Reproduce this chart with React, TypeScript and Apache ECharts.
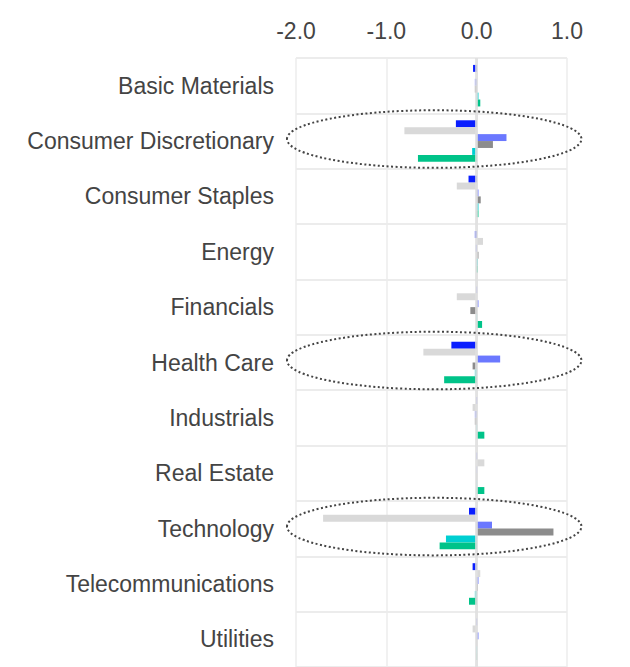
import React, { useEffect, useRef } from "react";
import * as echarts from "echarts";

const categories = [
  "Basic Materials",
  "Consumer Discretionary",
  "Consumer Staples",
  "Energy",
  "Financials",
  "Health Care",
  "Industrials",
  "Real Estate",
  "Technology",
  "Telecommunications",
  "Utilities",
];

const xTicks = [-2, -1, 0, 1];

const seriesBlue = [-0.04, -0.23, -0.09, -0.02, 0.005, -0.28, 0.005, 0.005, -0.085, -0.045, 0.005];
const seriesLightGrey = [0, -0.8, -0.22, 0.07, -0.22, -0.59, -0.045, 0.085, -1.7, 0.04, -0.045];
const seriesPeriwinkle = [-0.02, 0.33, 0.02, -0.01, 0.02, 0.26, -0.02, 0.005, 0.17, 0.02, 0.02];
const seriesDarkGrey = [-0.02, 0.18, 0.045, 0.02, -0.07, -0.045, -0.02, 0.005, 0.85, 0.015, 0.005];
const seriesTeal = [0.02, -0.05, 0.02, 0.015, 0.005, -0.02, 0.005, 0.005, -0.34, -0.02, 0.005];
const seriesGreen = [0.04, -0.65, 0.02, 0.015, 0.06, -0.36, 0.085, 0.085, -0.41, -0.085, 0.005];

const seriesList = [
  { name: "A", data: seriesBlue, color: "#0a1eff" },
  { name: "B", data: seriesLightGrey, color: "#d9d9d9" },
  { name: "C", data: seriesPeriwinkle, color: "#6b78ff" },
  { name: "D", data: seriesDarkGrey, color: "#8c8c8c" },
  { name: "E", data: seriesTeal, color: "#00cfd2" },
  { name: "F", data: seriesGreen, color: "#00c389" },
];

const highlighted = ["Consumer Discretionary", "Health Care", "Technology"];

const FONT = "'Liberation Sans', Arial, sans-serif";

export default function App() {
  const ref = useRef<HTMLDivElement>(null);

  useEffect(() => {
    if (!ref.current) return;
    const chart = echarts.init(ref.current, undefined, { renderer: "svg" });
    const bars: any[] = seriesList.map((s, i) => ({
      type: "bar",
      name: s.name,
      data: s.data,
      itemStyle: { color: s.color },
      barGap: "0%",
      barCategoryGap: "25%",
      z: 2,
      ...(i === 0
        ? {
            markLine: {
              silent: true,
              symbol: "none",
              z: 5,
              label: { show: false },
              lineStyle: { color: "rgba(222,222,222,0.8)", width: 3, type: "solid" },
              data: [{ xAxis: 0 }],
            },
          }
        : {}),
    }));
    bars.push({
      type: "custom",
      silent: true,
      clip: false,
      z: 10,
      encode: { x: 0, y: 1 },
      data: highlighted.map((n) => [0, categories.indexOf(n)]),
      renderItem: (params: any, api: any) => {
        const c = api.coord([-0.47, api.value(1)]);
        const size = api.size([1, 1]);
        return {
          type: "ellipse",
          shape: { cx: c[0], cy: c[1] - 2, rx: size[0] * 1.63, ry: size[1] * 0.52 },
          style: { fill: "none", stroke: "#444", lineWidth: 2, lineDash: [2, 2.5] },
        };
      },
    });
    chart.setOption({
      animation: false,
      textStyle: { fontFamily: FONT },
      grid: { left: 296, right: 63, top: 58, height: 618, containLabel: false },
      xAxis: {
        type: "value",
        position: "top",
        min: xTicks[0],
        max: xTicks[xTicks.length - 1],
        interval: 1,
        axisLine: { show: false },
        axisTick: { show: false },
        axisLabel: {
          formatter: (v: number) => v.toFixed(1),
          fontSize: 23,
          color: "#444",
          margin: 16,
          fontFamily: FONT,
        },
        splitLine: { show: true, lineStyle: { color: "#ececec", width: 1.5 } },
      },
      yAxis: {
        type: "category",
        inverse: true,
        data: categories,
        axisLine: { show: false },
        axisTick: { show: false },
        axisLabel: { fontSize: 23, color: "#444", margin: 22, fontFamily: FONT },
        splitLine: { show: true, lineStyle: { color: "#ececec", width: 2 } },
      },
      series: bars,
    });
    return () => chart.dispose();
  }, []);

  return (
    <div
      ref={ref}
      style={{ position: "absolute", left: 0, top: 0, width: 630, height: 667 }}
    />
  );
}
